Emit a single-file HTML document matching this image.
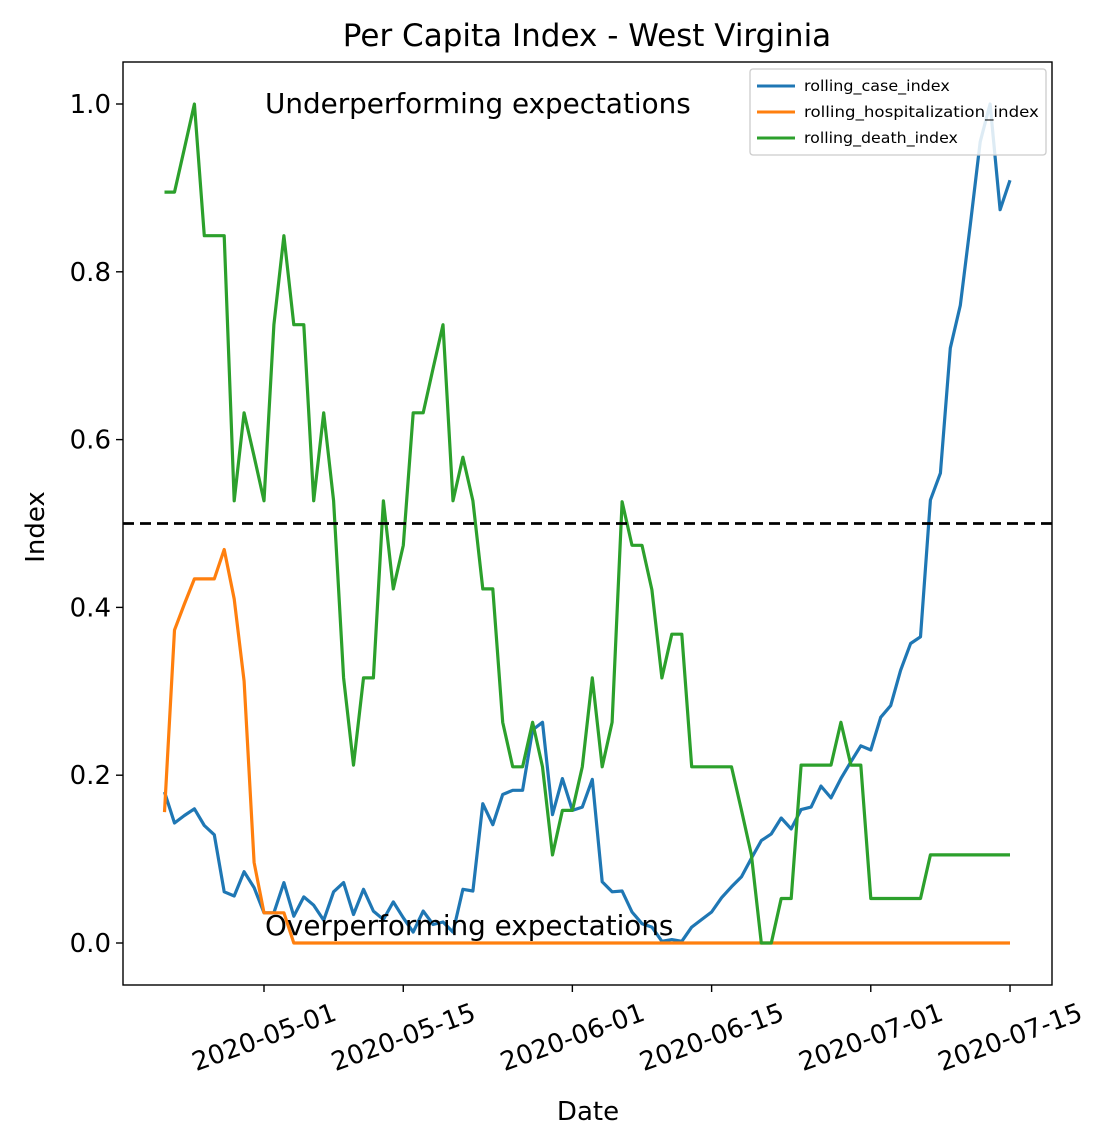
<!DOCTYPE html>
<html><head><meta charset="utf-8"><style>body{margin:0;background:#fff}svg{display:block}</style></head>
<body>
<svg id="chart" width="1111" height="1146" viewBox="0 0 1111 1146" xmlns="http://www.w3.org/2000/svg" font-family="'DejaVu Sans','Liberation Sans',sans-serif">
<rect width="1111" height="1146" fill="#fff"/>
<text x="587" y="46" font-size="31" text-anchor="middle">Per Capita Index - West Virginia</text>
<g id="plot"></g>
<text x="588" y="1120" font-size="26" text-anchor="middle">Date</text>
<text x="44" y="527" font-size="26" text-anchor="middle" transform="rotate(-90 44 527)">Index</text>
</svg>
<script>
const startDate = "2020-04-21";
const caseIndex = [0.18,0.143,0.152,0.16,0.14,0.129,0.061,0.056,0.085,0.066,0.036,0.036,0.072,0.032,0.055,0.045,0.027,0.061,0.072,0.034,0.064,0.038,0.028,0.049,0.03,0.013,0.038,0.022,0.025,0.013,0.064,0.062,0.166,0.141,0.177,0.182,0.182,0.254,0.263,0.153,0.196,0.158,0.162,0.195,0.073,0.061,0.062,0.037,0.023,0.019,0.002,0.004,0.002,0.019,0.028,0.037,0.054,0.067,0.079,0.101,0.122,0.13,0.149,0.136,0.159,0.162,0.187,0.173,0.196,0.216,0.235,0.23,0.269,0.283,0.325,0.357,0.365,0.528,0.56,0.709,0.76,0.855,0.955,1.0,0.874,0.909];
const hospIndex = [0.156,0.373,0.404,0.434,0.434,0.434,0.469,0.41,0.312,0.096,0.036,0.036,0.036,0,0,0,0,0,0,0,0,0,0,0,0,0,0,0,0,0,0,0,0,0,0,0,0,0,0,0,0,0,0,0,0,0,0,0,0,0,0,0,0,0,0,0,0,0,0,0,0,0,0,0,0,0,0,0,0,0,0,0,0,0,0,0,0,0,0,0,0,0,0,0,0,0];
const deathIndex = [0.895,0.895,0.947,1.0,0.843,0.843,0.843,0.527,0.632,0.58,0.527,0.737,0.843,0.737,0.737,0.527,0.632,0.527,0.316,0.212,0.316,0.316,0.527,0.422,0.474,0.632,0.632,0.685,0.737,0.527,0.579,0.527,0.422,0.422,0.263,0.21,0.21,0.263,0.21,0.105,0.158,0.158,0.21,0.316,0.21,0.263,0.526,0.474,0.474,0.421,0.316,0.368,0.368,0.21,0.21,0.21,0.21,0.21,0.158,0.105,0,0,0.053,0.053,0.212,0.212,0.212,0.212,0.263,0.212,0.212,0.053,0.053,0.053,0.053,0.053,0.053,0.105,0.105,0.105,0.105,0.105,0.105,0.105,0.105,0.105];
const yTicks = [0.0,0.2,0.4,0.6,0.8,1.0];
const xTickLabels = ["2020-05-01","2020-05-15","2020-06-01","2020-06-15","2020-07-01","2020-07-15"];
const threshold = 0.5;

const NS="http://www.w3.org/2000/svg";
const L=123,R=1052,T=62,B=985;
const DAY=86400000, d0=Date.parse("2020-05-01");
function xs(dayNum){return 264+(dayNum-d0)/DAY*9.947;}
function ys(v){return 943-v*839;}
function mk(tag,attrs,parent){const e=document.createElementNS(NS,tag);for(const k in attrs)e.setAttribute(k,attrs[k]);parent.appendChild(e);return e;}
const g=document.getElementById('plot');
const s0=Date.parse(startDate);

function series(arr,color,name){
  const pts=arr.map((v,i)=>xs(s0+i*DAY).toFixed(1)+","+ys(v).toFixed(1)).join(" ");
  const p=mk('polyline',{points:pts,fill:'none',stroke:color,'stroke-width':3.2,'stroke-linejoin':'round'},g);
  
  
}
series(caseIndex,'#1f77b4','case-index-line');
series(hospIndex,'#ff7f0e','hospitalization-index-line');
series(deathIndex,'#2ca02c','death-index-line');

const th=mk('line',{x1:L,x2:R,y1:ys(threshold),y2:ys(threshold),stroke:'#000','stroke-width':2.8,'stroke-dasharray':'11,6'},g);



const ann1=mk('text',{x:265,y:113,'font-size':27.8},g);ann1.textContent="Underperforming expectations";


const ann2=mk('text',{x:265,y:935,'font-size':27.8},g);ann2.textContent="Overperforming expectations";



const frame=mk('rect',{x:L,y:T,width:R-L,height:B-T,fill:'none',stroke:'#000','stroke-width':1.4},g);



yTicks.forEach(v=>{
  const y=ys(v);
  const t=mk('line',{x1:L-7,x2:L,y1:y,y2:y,stroke:'#000','stroke-width':1.4},g);
  
  
  const lb=mk('text',{x:L-12,y:y+9,'font-size':26,'text-anchor':'end'},g);
  lb.textContent=v.toFixed(1);
  
  
});
xTickLabels.forEach(s=>{
  const x=xs(Date.parse(s));
  const t=mk('line',{x1:x,x2:x,y1:B,y2:B+7,stroke:'#000','stroke-width':1.4},g);
  
  
  const lb=mk('text',{x:x,y:1046,'font-size':26,'text-anchor':'middle',transform:`rotate(-20 ${x} 1037)`},g);
  lb.textContent=s;
  
  
});

const leg=mk('g',{},g);


mk('rect',{x:750,y:69,width:296,height:86,rx:3,fill:'#fff','fill-opacity':0.85,stroke:'#ccc','stroke-width':1.3},leg);
[['rolling_case_index','#1f77b4'],['rolling_hospitalization_index','#ff7f0e'],['rolling_death_index','#2ca02c']].forEach((e,i)=>{
  const y=86+i*26;
  const ln=mk('line',{x1:757,x2:795,y1:y,y2:y,stroke:e[1],'stroke-width':3},leg);
  
  
  const tx=mk('text',{x:804,y:y+5,'font-size':15,textLength:e[0].length*8.1,lengthAdjust:'spacingAndGlyphs'},leg);
  tx.textContent=e[0];
  
  
});
</script>
</body></html>
